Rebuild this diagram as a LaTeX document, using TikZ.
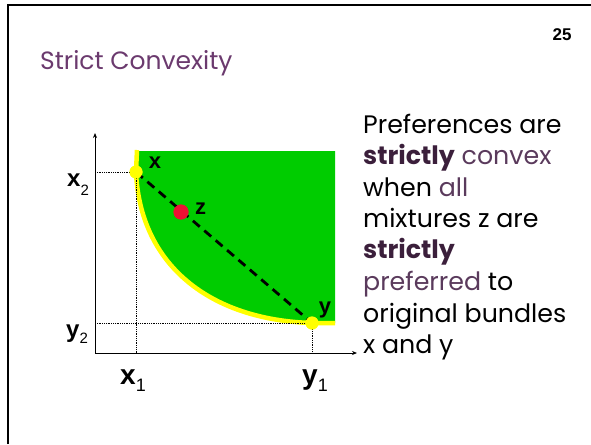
\documentclass[tikz,border=0pt]{standalone}
\usepackage{fontspec}
\setmainfont{Poppins}
\newfontfamily\lblfont{Liberation Sans}
\usetikzlibrary{arrows.meta}
\definecolor{ttl}{HTML}{6B3A6E}
\definecolor{bdp}{HTML}{3B1F3B}
\definecolor{mdp}{HTML}{5A3A5C}
\definecolor{grn}{HTML}{00CC00}
\definecolor{ylw}{HTML}{FFFF00}
\definecolor{rd}{HTML}{EE1133}
\tikzset{
  bodyline/.style={anchor=base west, inner sep=0pt, font=\fontsize{25.3}{30}\selectfont},
  axlblA/.style={anchor=base west, inner sep=0pt, font=\lblfont\bfseries\fontsize{24}{26}\selectfont},
  axlblB/.style={anchor=base west, inner sep=0pt, font=\lblfont\bfseries\fontsize{28}{30}\selectfont},
  ptlbl/.style={inner sep=0pt, font=\lblfont\bfseries\fontsize{22}{24}\selectfont},
  guide/.style={densely dotted, line width=0.8pt},
  axis/.style={line width=0.8pt, -{Stealth[length=5pt,width=4pt]}},
  ydot/.style={circle, fill=ylw, inner sep=0pt, minimum size=13pt},
  rdot/.style={circle, fill=rd, inner sep=0pt, minimum size=15pt},
}
\begin{document}
\begin{tikzpicture}[x=1pt,y=-1pt]
\useasboundingbox (0,0) rectangle (591,444);
% frame
\draw[line width=2pt] (8,444) -- (8,5) -- (591,5);
% title and page number
\node[anchor=base west, inner sep=0pt, text=ttl, font=\fontsize{25}{30}\selectfont] (title) at (40,69) {Strict Convexity};
\node[inner sep=0pt, font=\lblfont\bfseries\fontsize{17}{19}\selectfont] (pg) at (562,35) {25};
% green region
\fill[grn] (137,151) -- (335,151) -- (335,323) -- (312,323)
  .. controls (210,320) and (140,265) .. (136,172) -- cycle;
% yellow curve
\draw[ylw, line width=4.5pt] (137,150) -- (136,172)
  .. controls (140,265) and (210,320) .. (312,323) -- (335,323);
% axes
\coordinate (O) at (95,353);
\coordinate (ytop) at (95,133);
\coordinate (xend) at (357,353);
\draw[axis] (O) -- (ytop);
\draw[axis] (O) -- (xend);
% points
\node[ydot] (px) at (136,172) {};
\node[ydot] (py) at (312,323) {};
\node[rdot] (pz) at (181,212) {};
% guides
\coordinate (gx2) at (95,172);
\coordinate (gx1) at (136,353);
\coordinate (gy2) at (95,323);
\coordinate (gy1) at (312,353);
\draw[guide] (gx2) -- (px.center) -- (gx1);
\draw[guide] (gy2) -- (py.center) -- (gy1);
% dashed chord
\draw[line width=2.8pt, dash pattern=on 9pt off 6pt] (px.center) -- (py.center);
\node[ydot] at (px.center) {};
\node[ydot] at (py.center) {};
\node[rdot] at (pz.center) {};
% labels
\node[axlblA] (lx2) at (67,186) {x\raisebox{-9pt}{\mdseries\fontsize{15}{15}\selectfont 2}};
\node[axlblA] (ly2) at (66,337) {y\raisebox{-6pt}{\mdseries\fontsize{15}{15}\selectfont 2}};
\node[axlblB] (lx1) at (120,384) {x\raisebox{-7pt}{\mdseries\fontsize{18}{18}\selectfont 1}};
\node[axlblB] (ly1) at (302,384) {y\raisebox{-7pt}{\mdseries\fontsize{18}{18}\selectfont 1}};
\node[ptlbl] (lx) at (155,163) {x};
\node[ptlbl, anchor=base] (lz) at (200.5,214.5) {z};
\node[ptlbl, anchor=base] (ly) at (325,313) {y};
% body text
\node[bodyline] (t1) at (363,133) {Preferences are};
\node[bodyline] (t2) at (363,164) {\textcolor{bdp}{\textbf{strictly}} \textcolor{mdp}{convex}};
\node[bodyline] (t3) at (363,196) {when \textcolor{mdp}{all}};
\node[bodyline] (t4) at (363,227) {mixtures z are};
\node[bodyline] (t5) at (363,258) {\textcolor{bdp}{\textbf{strictly}}};
\node[bodyline] (t6) at (363,290) {\textcolor{mdp}{preferred} to};
\node[bodyline] (t7) at (363,322) {original bundles};
\node[bodyline] (t8) at (363,353) {x and y};
\end{tikzpicture}
\end{document}
